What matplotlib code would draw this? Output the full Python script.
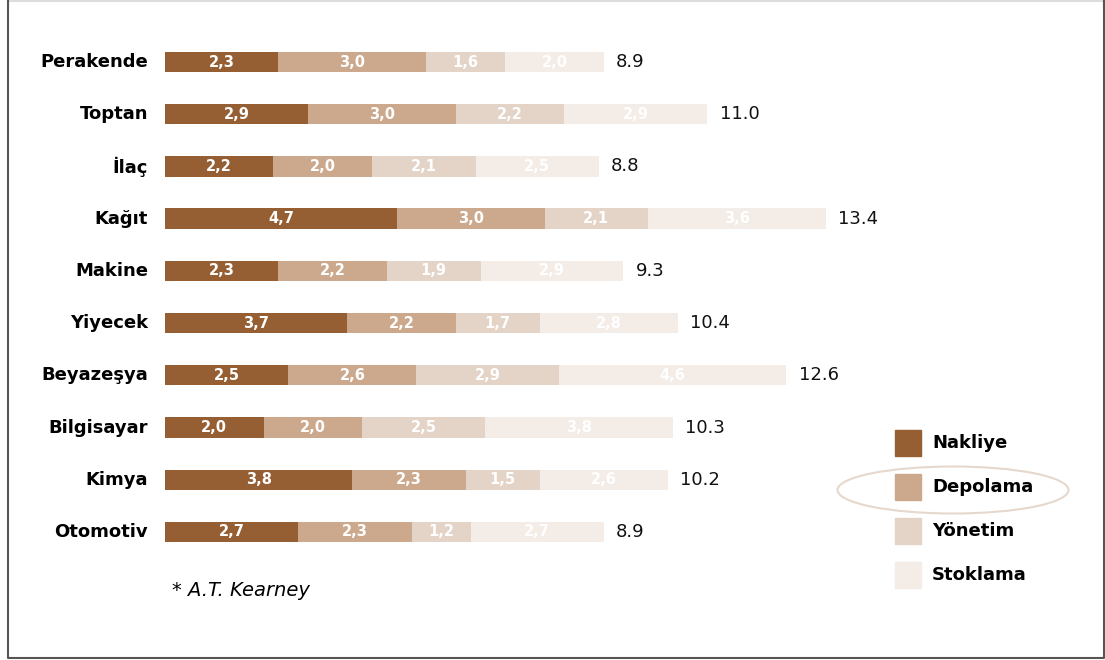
import matplotlib.pyplot as plt
from matplotlib.patches import Rectangle, Ellipse
from matplotlib.lines import Line2D

# veriler
kategoriler = ['Perakende', 'Toptan', 'İlaç', 'Kağıt', 'Makine',
               'Yiyecek', 'Beyazeşya', 'Bilgisayar', 'Kimya', 'Otomotiv']
nakliye = [2.3, 2.9, 2.2, 4.7, 2.3, 3.7, 2.5, 2.0, 3.8, 2.7]
depolama = [3.0, 3.0, 2.0, 3.0, 2.2, 2.2, 2.6, 2.0, 2.3, 2.3]
yonetim = [1.6, 2.2, 2.1, 2.1, 1.9, 1.7, 2.9, 2.5, 1.5, 1.2]
stoklama = [2.0, 2.9, 2.5, 3.6, 2.9, 2.8, 4.6, 3.8, 2.6, 2.7]
toplam = [8.9, 11.0, 8.8, 13.4, 9.3, 10.4, 12.6, 10.3, 10.2, 8.9]

seriler = ['Nakliye', 'Depolama', 'Yönetim', 'Stoklama']
renkler = ['#955e33', '#cca98c', '#e4d3c7', '#f4ece7']

W, H = 1105, 660
fig = plt.figure(figsize=(W / 100, H / 100), dpi=100)

# eksen: x=0 -> 165 px, 1 birim = 49.3 px
x0, olcek = 165, 49.3
ax = fig.add_axes([x0 / W, 0, 1 - x0 / W, 1])
ax.set_xlim(0, (W - x0) / olcek)
aralik = 52.2
ax.set_ylim(9 + (H - 532) / aralik, -62 / aralik)
ax.axis('off')

y = list(range(len(kategoriler)))
sol = [0] * len(kategoriler)
for seri, renk in zip([nakliye, depolama, yonetim, stoklama], renkler):
    ax.barh(y, seri, left=sol, height=0.39, color=renk)
    for i, v in enumerate(seri):
        ax.text(sol[i] + v / 2, i, f'{v:.1f}'.replace('.', ','), ha='center', va='center',
                color='white', fontsize=10.5, fontweight='bold')
    sol = [a + b for a, b in zip(sol, seri)]

for i, t in enumerate(toplam):
    ax.text(sol[i] + 0.25, i, f'{t:.1f}', ha='left', va='center', fontsize=13, color='#111111')
    ax.text(-17 / olcek, i, kategoriler[i], ha='right', va='center', fontsize=13,
            fontweight='bold', color='black')

# lejant
for k, (ad, renk) in enumerate(zip(seriler, renkler)):
    yy = 443 + k * 44
    fig.patches.append(Rectangle((895 / W, 1 - (yy + 13) / H), 26 / W, 26 / H,
                                 transform=fig.transFigure, color=renk))
    fig.text(932 / W, 1 - yy / H, ad, ha='left', va='center', fontsize=13,
             fontweight='bold', color='black')
fig.patches.append(Ellipse((953 / W, 1 - 490 / H), 231 / W, 47 / H, transform=fig.transFigure,
                           fill=False, edgecolor='#e6d8cc', linewidth=1.5))

fig.text(172 / W, 1 - 591 / H, '* A.T. Kearney', ha='left', va='center', fontsize=14,
         style='italic', color='black')

# çerçeve
sx, dx, ust, alt = 8 / W, 1104 / W, 1 - 0.5 / H, 1 - 658 / H
fig.add_artist(Line2D([sx, dx], [ust, ust], color='#dddddd', linewidth=1.5))
fig.add_artist(Line2D([sx, sx, dx, dx], [ust, alt, alt, ust], color='#555555', linewidth=1.5))

fig.savefig('out.png', dpi=100)
